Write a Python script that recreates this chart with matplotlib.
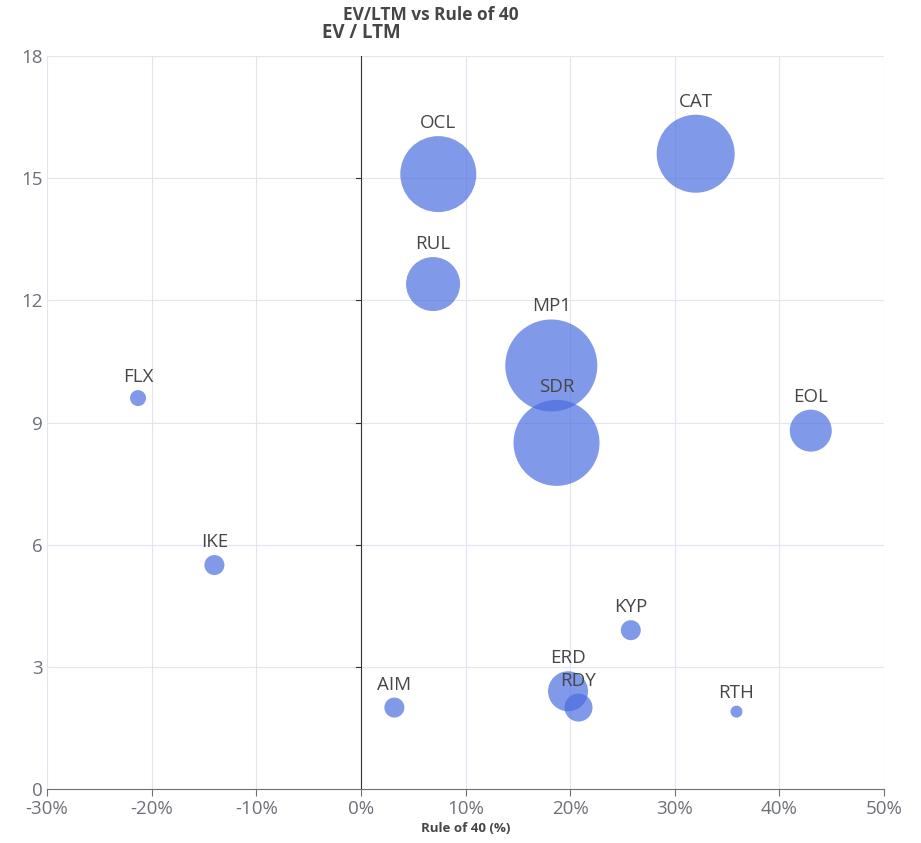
import matplotlib.pyplot as plt
import numpy as np

plt.rcParams['font.family'] = ['Open Sans', 'DejaVu Sans']

# bubble data
tickers = ['FLX', 'IKE', 'AIM', 'ERD', 'RDY', 'KYP', 'RTH', 'EOL', 'SDR', 'MP1', 'RUL', 'OCL', 'CAT']
rule_of_40 = [-21.3, -14.0, 3.2, 19.8, 20.8, 25.8, 35.9, 43.0, 18.7, 18.2, 6.9, 7.4, 32.0]
ev_ltm = [9.6, 5.5, 2.0, 2.4, 2.0, 3.9, 1.9, 8.8, 8.5, 10.4, 12.4, 15.1, 15.6]
bubble_value = [64, 100, 100, 400, 196, 100, 36, 441, 1849, 2116, 729, 1444, 1521]

x_ticks = [-30, -20, -10, 0, 10, 20, 30, 40, 50]
y_ticks = [0, 3, 6, 9, 12, 15, 18]

fig = plt.figure(figsize=(9.21, 8.43), dpi=100)
ax = fig.add_axes([0.05103, 0.06406, 0.9088, 0.8695])

# radius in px -> marker size in pt^2
radius_px = np.sqrt(bubble_value)
sizes = (2 * radius_px * 0.72) ** 2

ax.scatter(rule_of_40, ev_ltm, s=sizes, color='#4a6ee0', alpha=0.7,
           edgecolors='none', zorder=3)

for t, x, y, r in zip(tickers, rule_of_40, ev_ltm, radius_px):
    ax.annotate(t, (x, y), xytext=(0, (r + 4) * 0.72), textcoords='offset points',
                ha='center', va='bottom', fontsize=13.5, color='#464646', zorder=5)

ax.set_xlim(-30, 50)
ax.set_ylim(0, 18)
ax.set_xticks(x_ticks)
ax.set_xticklabels([f'{v}%' for v in x_ticks])
ax.set_yticks(y_ticks)
ax.grid(True, color='#e0e6f1', linewidth=0.8, zorder=0)
ax.tick_params(axis='both', labelsize=13.5, colors='#6e7079', length=0, pad=3)
ax.tick_params(axis='x', length=5, color='#6e7079')

for s in ['top', 'right', 'left']:
    ax.spines[s].set_visible(False)
ax.spines['bottom'].set_color('#6e7079')

# y axis drawn at x = 0
ax.axvline(0, color='#333333', linewidth=0.8, zorder=2)
for yt in y_ticks[1:-1]:
    ax.plot([-0.45, 0], [yt, yt], color='#333333', linewidth=0.8, zorder=2)

ax.set_xlabel('Rule of 40 (%)', fontsize=9.5, fontweight='bold', color='#464646', labelpad=3)
ax.text(0, 18.33, 'EV / LTM', ha='center', va='bottom', fontsize=13.5, fontweight='bold',
        color='#464646')
fig.text(0.468, 0.993, 'EV/LTM vs Rule of 40', ha='center', va='top', fontsize=12.5,
         fontweight='bold', color='#464646')

plt.savefig('out.png')
